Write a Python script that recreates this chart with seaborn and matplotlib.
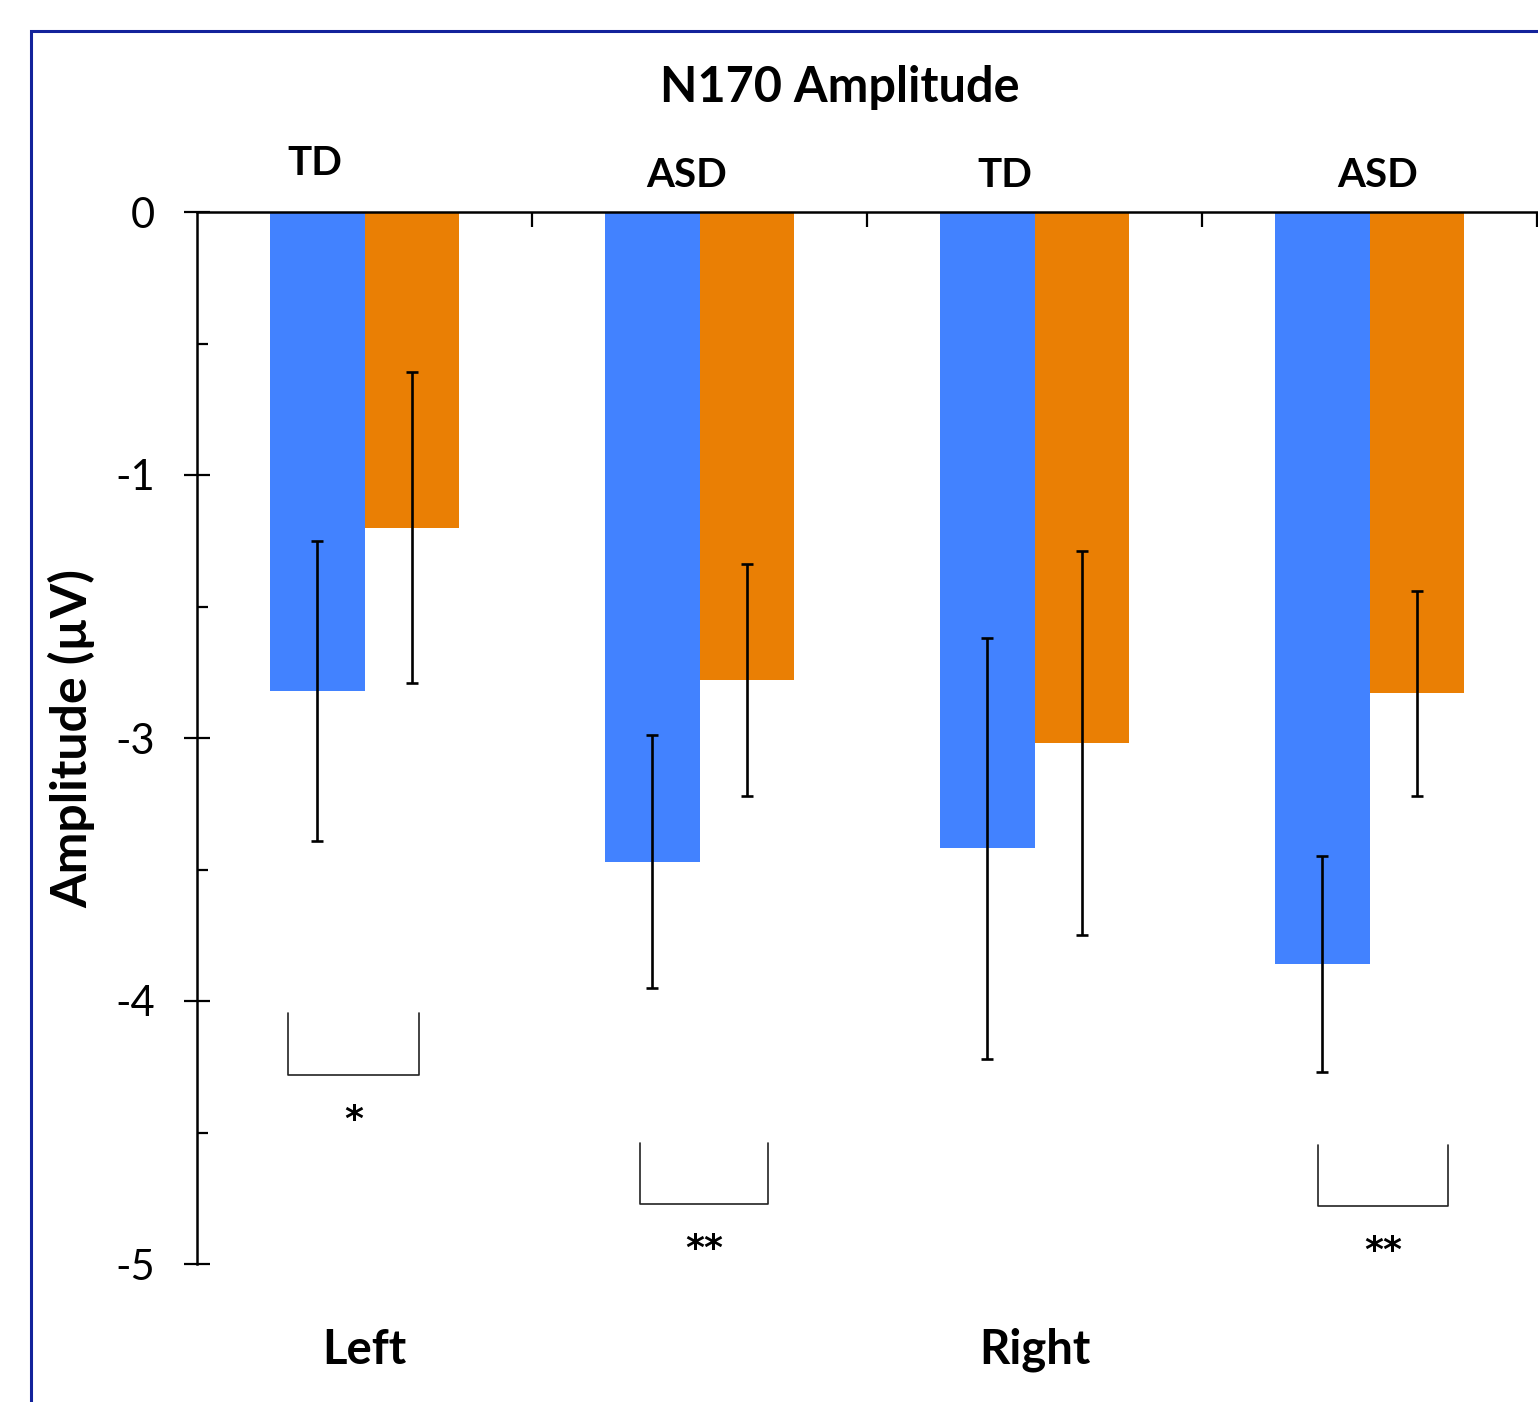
import matplotlib as mpl
mpl.use('agg')
import matplotlib.pyplot as plt
from matplotlib.patches import Rectangle
import numpy as np
import pandas as pd
import seaborn as sns

# data (amplitude axis units)
groups = ['Left TD', 'Left ASD', 'Right TD', 'Right ASD']
conditions = ['cond1', 'cond2']
amp_cond1 = [-1.82, -2.47, -2.42, -2.86]
amp_cond2 = [-1.20, -1.78, -2.02, -1.83]
err_cond1 = [0.57, 0.48, 0.80, 0.41]
err_cond2 = [0.59, 0.44, 0.73, 0.39]
group_labels = ['TD', 'ASD', 'TD', 'ASD']
hemispheres = ['Left', 'Right']
ytick_pos = [0, -1, -2, -3, -4]
ytick_labels = ['0', '-1', '-3', '-4', '-5']
# significance brackets: (x0, x1, y_top, y_bottom, label)
brackets = [(-0.228, 0.163, -3.046, -3.281, '*'),
            (0.822, 1.204, -3.540, -3.772, '**'),
            (2.846, 3.234, -3.548, -3.779, '**')]

df = pd.DataFrame({
    'group': groups * 2,
    'cond': [conditions[0]] * 4 + [conditions[1]] * 4,
    'amp': amp_cond1 + amp_cond2,
})
errs = [err_cond1, err_cond2]

sns.set_style('white')
plt.rcParams['font.family'] = ['Lato', 'DejaVu Sans']
plt.rcParams['text.color'] = 'black'
plt.rcParams['ytick.labelcolor'] = 'black'

W, H = 1538, 1402
fig = plt.figure(figsize=(W / 100, H / 100), dpi=100)
ax = fig.add_axes([197 / W, 1 - 1264 / H, (1537 - 197) / W, (1264 - 212) / H])

colors = ['#4282FF', '#EA7F04']
sns.barplot(data=df, x='group', y='amp', hue='cond', order=groups, hue_order=conditions,
            palette=colors, saturation=1, width=0.567, errorbar=None, legend=False,
            edgecolor='none', linewidth=0, ax=ax)

# error bars
for cont, e in zip(ax.containers, errs):
    xs = [p.get_x() + p.get_width() / 2 for p in cont.patches]
    ys = [p.get_height() for p in cont.patches]
    ax.errorbar(xs, ys, yerr=e, fmt='none', ecolor='black', elinewidth=1.9,
                capsize=4.5, capthick=1.9, zorder=3)

ax.set_xlim(-0.5, 3.5)
ax.set_ylim(-4, 0)
ax.set_xlabel('')
ax.set_ylabel('')

# spines
for s in ['right', 'bottom']:
    ax.spines[s].set_visible(False)
for s in ['top', 'left']:
    ax.spines[s].set_linewidth(1.8)
    ax.spines[s].set_color('black')

# x ticks on top at group boundaries
ax.xaxis.tick_top()
ax.set_xticks([0.5, 1.5, 2.5, 3.5])
ax.set_xticklabels([])
ax.tick_params(axis='x', which='major', top=True, bottom=False, direction='in',
               length=11, width=1.6, color='black')

# y ticks
ax.set_yticks(ytick_pos)
ax.set_yticklabels(ytick_labels)
ax.set_yticks([-0.5, -1.5, -2.5, -3.5], minor=True)
ax.tick_params(axis='y', which='major', left=True, direction='inout', length=18.7, width=1.6,
               pad=21, labelsize=30, color='black', labelcolor='black')
ax.tick_params(axis='y', which='minor', left=True, direction='in', length=8, width=1.6,
               color='black')

# group labels above axis
label_pos = [(-0.148, 0.186), (0.960, 0.137), (1.912, 0.137), (3.025, 0.137)]
for (x, y), lab in zip(label_pos, group_labels):
    ax.text(x, y, lab, ha='center', va='center', fontsize=29, fontweight='bold',
            color='black', clip_on=False)

# hemisphere labels below
for x, lab in zip([0.0, 2.0], hemispheres):
    ax.text(x, -4.327, lab, ha='center', va='center', fontsize=34, fontweight='bold',
            color='black', clip_on=False)

# significance brackets
for x0, x1, yt, yb, lab in brackets:
    ax.plot([x0, x0, x1, x1], [yt, yb, yb, yt], color='#222222', lw=1.2, clip_on=False)
    ax.text((x0 + x1) / 2, yb - 0.17, lab, ha='center', va='center', fontsize=26,
            fontweight='bold', family='DejaVu Sans', color='black', clip_on=False)

fig.text(840 / W, 1 - 87 / H, 'N170 Amplitude', ha='center', va='center', fontsize=35,
         fontweight='bold', color='black')
fig.text(72 / W, 1 - 738 / H, 'Amplitude (µV)', ha='center', va='center', rotation=90,
         fontsize=36, fontweight='bold', color='black')

# outer frame
fig.patches.append(Rectangle((31 / W, -0.1), 1.2, 1 - 31 / H + 0.1, transform=fig.transFigure,
                             fill=False, edgecolor='#13239B', linewidth=2.2, figure=fig))

fig.savefig('out.png', dpi=100)
